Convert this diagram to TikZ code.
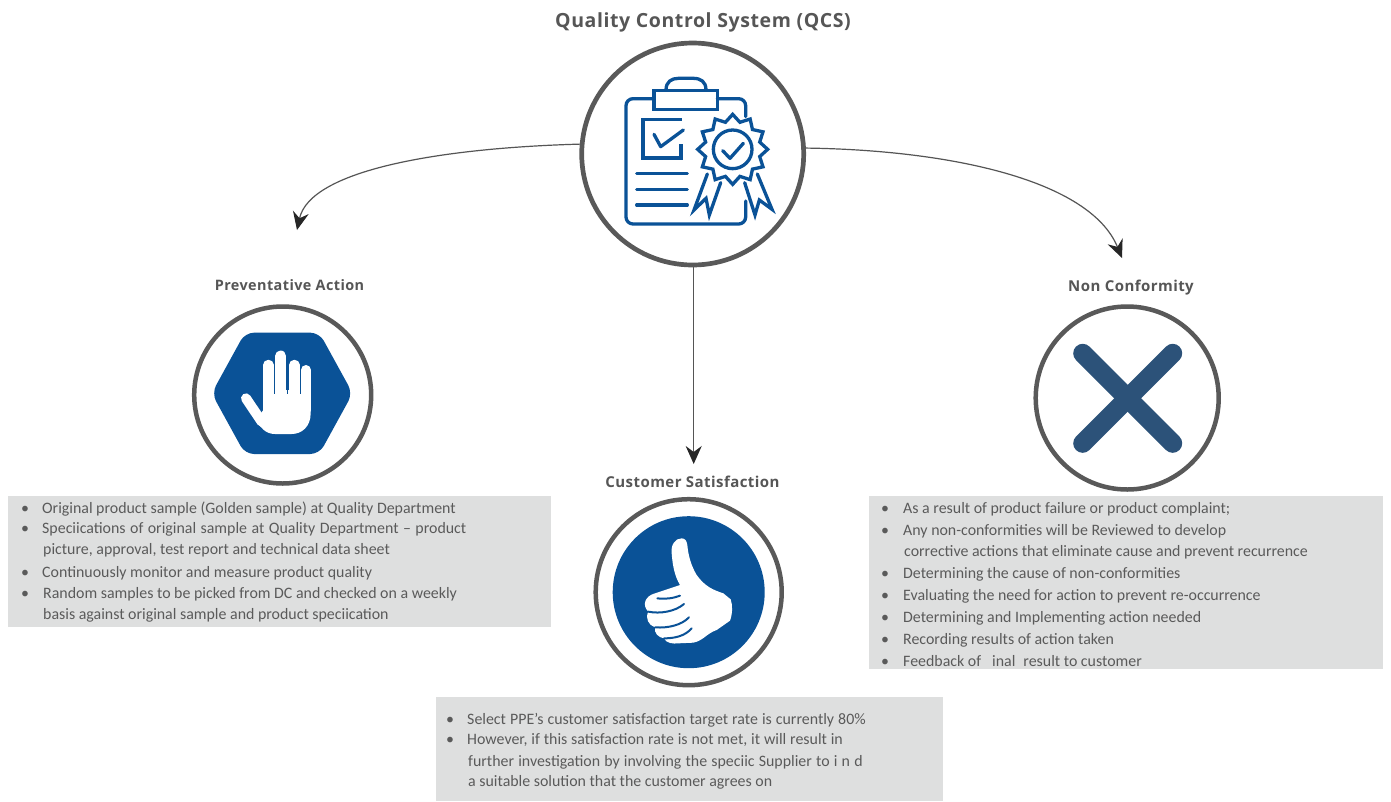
\documentclass[tikz,border=0pt]{standalone}
\usepackage{fontspec}
\setmainfont{Carlito}
\newfontfamily\headfont[LetterSpace=3]{Open Sans}
\usetikzlibrary{arrows.meta}
\definecolor{ringgrey}{HTML}{595959}
\definecolor{iconblue}{HTML}{0A5297}
\definecolor{xblue}{HTML}{2C5279}
\definecolor{boxgrey}{HTML}{DEDFDF}
\definecolor{txtgrey}{HTML}{5A5A5A}
\definecolor{headgrey}{HTML}{565656}
\definecolor{arrowgrey}{HTML}{555555}
\definecolor{tipgrey}{HTML}{262626}
\tikzset{
  x=1pt,y=-1pt,
  ring/.style={circle,draw=ringgrey,fill=white,line width=#1,inner sep=0pt},
  panel/.style={fill=boxgrey,draw=none},
  bodytext/.style={anchor=base west,inner sep=0pt,text=txtgrey,font=\fontsize{15.9}{18}\selectfont},
  bulletmark/.style={anchor=base,inner sep=0pt,text=txtgrey,font=\fontsize{15.9}{18}\selectfont},
  headtext/.style={anchor=base,inner sep=0pt,text=headgrey,font=\headfont\bfseries\fontsize{#1}{20}\selectfont},
  link/.style={draw=arrowgrey,line width=1.2pt,-{Stealth[length=18pt,width=16pt,inset=6pt,color=tipgrey]}},
  iconline/.style={draw=iconblue,line width=3.3pt,line cap=round,line join=round},
}
\begin{document}
\begin{tikzpicture}
\useasboundingbox (0,0) rectangle (1391,801);
\fill[white] (0,0) rectangle (1391,801);

% panels
\fill[panel] (8,496) rectangle (551,627);
\fill[panel] (869,496) rectangle (1383,669);
\fill[panel] (436,697) rectangle (943,801);

% rings
\node[ring=4.7pt,minimum size=222pt] (qcs) at (692.7,154) {};
\node[ring=4.5pt,minimum size=177pt] (prev) at (282.7,395) {};
\node[ring=4.5pt,minimum size=186pt] (sat) at (688.7,592.2) {};
\node[ring=4.5pt,minimum size=183pt] (non) at (1127.2,398) {};

% arrow ends
\coordinate (prevend) at (297,230);
\coordinate (satend) at (693.7,464);
\coordinate (nonend) at (1122,258);
\draw[link] (qcs.175.5) .. controls (440,148) and (310,170) .. (prevend);
\draw[link] (qcs.south -| satend) -- (satend);
\draw[link] (qcs.3) .. controls (950,150) and (1090,180) .. (nonend);

% titles
\node[headtext=19.5] (t0) at (703,27) {Quality Control System (QCS)};
\node[headtext=14.4] (t1) at (289.5,290) {Preventative Action};
\node[headtext=15] (t2) at (692.5,487) {Customer Satisfaction};
\node[headtext=15] (t3) at (1131,291) {Non Conformity};

% clipboard icon
\begin{scope}[shift={(570,0)},scale=1/3]
  \draw[iconline,rounded corners=7pt] (252,296) -- (168,296) -- (168,672) -- (527,672) -- (527,603);
  \draw[iconline,rounded corners=7pt] (442,296) -- (527,296) -- (527,350);
  \draw[iconline,line cap=butt,line join=miter] (252,272) rectangle (442,328);
  \draw[iconline] (288,270) .. controls (288,245) and (305,235) .. (325,235) -- (370,235) .. controls (392,235) and (408,245) .. (408,270);
  \draw[iconline,line cap=butt,line join=miter] (335,358) -- (219,358) -- (219,474) -- (333,474) -- (333,432);
  \draw[iconline] (252,403) -- (272,440) -- (340,390);
  \draw[iconline] (200,520) -- (352,520);
  \draw[iconline] (200,568) -- (352,568);
  \draw[iconline] (200,615) -- (352,615);
  \draw[iconline,line join=miter] (488,343)
    \foreach \a in {1,...,23} { -- ({488+(isodd(\a)?84:105)*sin(\a*15)},{448-(isodd(\a)?84:105)*cos(\a*15)}) } -- cycle;
  \draw[iconline] (488,448) circle[radius=58];
  \draw[iconline] (458,452) -- (480,475) -- (520,430);
  \draw[iconline,line join=miter] (412,522) -- (372,630) -- (408,595) -- (418,645) -- (452,548);
  \draw[iconline,line join=miter] (562,522) -- (606,628) -- (568,600) -- (555,645) -- (524,548);
\end{scope}

% stop-hand icon
\begin{scope}[shift={(180,270)},scale=1/3]
  \fill[iconblue,rounded corners=9pt] (195,188) -- (418,188) -- (518,370) -- (418,552) -- (195,552) -- (95,370) -- cycle;
  \fill[white] (250,360) -- (392,360) -- (392,430) .. controls (392,470) and (365,492) .. (335,492) -- (285,492) .. controls (255,492) and (240,470) .. (228,450) -- (250,420) -- cycle;
  \draw[white,line width=10pt,line cap=round] (198,385) -- (245,455);
  \draw[white,line width=10.5pt,line cap=round] (265,285) -- (265,420);
  \draw[white,line width=11pt,line cap=round] (302,258) -- (302,420);
  \draw[white,line width=10.5pt,line cap=round] (343,285) -- (343,420);
  \draw[white,line width=10pt,line cap=round] (378,300) -- (378,420);
  \draw[iconblue,line width=1pt] (283,300) -- (283,372);
  \draw[iconblue,line width=1pt] (322,290) -- (322,372);
  \draw[iconblue,line width=1pt] (361,300) -- (361,372);
\end{scope}

% thumbs-up icon
\fill[iconblue] (sat.center) circle[radius=76];
\begin{scope}[shift={(580,430)},scale=1/3]
  \fill[white] (305,325) .. controls (285,325) and (272,345) .. (275,370) .. controls (278,410) and (285,440) .. (300,465)
    -- (225,490) .. controls (195,498) and (185,525) .. (205,545) .. controls (195,565) and (205,585) .. (225,592) .. controls (222,610) and (235,622) .. (252,625) .. controls (258,640) and (280,642) .. (295,640) -- (340,638) .. controls (370,632) and (380,610) .. (410,600) -- (450,572) .. controls (458,550) and (458,525) .. (452,508) -- (430,490) .. controls (400,480) and (375,470) .. (350,435) .. controls (335,410) and (325,380) .. (322,345) .. controls (320,332) and (315,325) .. (305,325) -- cycle;
  \draw[iconblue,line width=2pt,line cap=round] (232,505) .. controls (255,508) and (280,505) .. (300,497);
  \draw[iconblue,line width=2pt,line cap=round] (205,545) .. controls (240,552) and (285,545) .. (312,522);
  \draw[iconblue,line width=2pt,line cap=round] (225,592) .. controls (265,595) and (305,585) .. (327,562);
  \draw[iconblue,line width=2pt,line cap=round] (252,625) .. controls (285,625) and (315,618) .. (335,595);
\end{scope}

% cross icon
\draw[xblue,line width=19pt,line cap=round] (1082.7,353.3) -- (1172.7,443.3);
\draw[xblue,line width=19pt,line cap=round] (1172.7,353.3) -- (1082.7,443.3);

% left panel text
\node[bulletmark] (lb1) at (25,513) {•};
\node[bodytext] (l1) at (42,513) {Original product sample (Golden sample) at Quality Department};
\node[bulletmark] (lb2) at (25,533) {•};
\node[bodytext] (l2) at (42,533) {\spaceskip=4.5pt Speciications of original sample at Quality Department – product};
\node[bodytext] (l3) at (43,554) {picture, approval, test report and technical data sheet};
\node[bulletmark] (lb4) at (25,577) {•};
\node[bodytext] (l4) at (42,577) {Continuously monitor and measure product quality};
\node[bulletmark] (lb5) at (25,598) {•};
\node[bodytext] (l5) at (43,598) {Random samples to be picked from DC and checked on a weekly};
\node[bodytext] (l6) at (43,619) {basis against original sample and product speciication};

% right panel text
\node[bulletmark] (rb1) at (885,513) {•};
\node[bodytext] (r1) at (903,513) {As a result of product failure or product complaint;};
\node[bulletmark] (rb2) at (885,535) {•};
\node[bodytext] (r2) at (903,535) {Any non-conformities will be Reviewed to develop};
\node[bodytext] (r3) at (904,556) {corrective actions that eliminate cause and prevent recurrence};
\node[bulletmark] (rb4) at (885,578) {•};
\node[bodytext] (r4) at (903,578) {Determining the cause of non-conformities};
\node[bulletmark] (rb5) at (885,600) {•};
\node[bodytext] (r5) at (903,600) {Evaluating the need for action to prevent re-occurrence};
\node[bulletmark] (rb6) at (885,622) {•};
\node[bodytext] (r6) at (903,622) {Determining and Implementing action needed};
\node[bulletmark] (rb7) at (885,644) {•};
\node[bodytext] (r7) at (903,644) {Recording results of action taken};
\node[bulletmark] (rb8) at (885,666) {•};
\node[bodytext] (r8) at (903,666) {Feedback of\hspace{11pt}inal\hspace{8pt}result to customer};

% bottom panel text
\node[bulletmark] (bb1) at (450,724) {•};
\node[bodytext] (b1) at (467,724) {\spaceskip=4.05pt Select PPE’s customer satisfaction target rate is currently 80\%};
\node[bulletmark] (bb2) at (450,744) {•};
\node[bodytext] (b2) at (467,744) {\spaceskip=3.87pt However, if this satisfaction rate is not met, it will result in};
\node[bodytext] (b3) at (468,766) {\spaceskip=4.2pt further investigation by involving the speciic Supplier to i n d};
\node[bodytext] (b4) at (468,786) {a suitable solution that the customer agrees on};
\end{tikzpicture}
\end{document}
